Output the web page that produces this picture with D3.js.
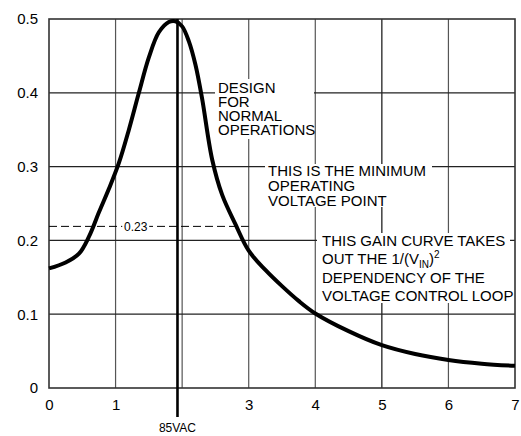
<!DOCTYPE html>
<html>
<head>
<meta charset="utf-8">
<script src="https://cdn.jsdelivr.net/npm/d3@7"></script>
<style>
  body { margin: 0; background: #fff; }
  text { font-family: Arial, "Liberation Sans", sans-serif; fill: #000; }
</style>
</head>
<body>
<div id="plot"></div>
<script>
// gain curve
var vinValues  = [0, 0.25, 0.45, 0.6, 0.75, 0.9, 1.05, 1.2, 1.35, 1.5, 1.65, 1.8, 1.9, 2.0, 2.1, 2.2, 2.3, 2.45, 2.6, 2.8, 3.0, 3.25, 3.5, 3.75, 4.0, 4.5, 5.0, 5.5, 6.0, 6.5, 7.0];
var gainValues = [0.162, 0.170, 0.182, 0.205, 0.238, 0.270, 0.305, 0.350, 0.400, 0.448, 0.482, 0.496, 0.497, 0.490, 0.470, 0.438, 0.392, 0.310, 0.262, 0.222, 0.186, 0.160, 0.138, 0.118, 0.101, 0.077, 0.058, 0.046, 0.038, 0.033, 0.030];

var xTicks = [0, 1, 2, 3, 4, 5, 6, 7];
var yTicks = [0, 0.1, 0.2, 0.3, 0.4, 0.5];
var xTickLabels = ["0", "1", "", "3", "4", "5", "6", "7"];

var markerVin = 1.93, markerLabel = "85VAC";
var minGain = 0.219, minGainLabel = "0.23";

var designLines = ["DESIGN", "FOR", "NORMAL", "OPERATIONS"];
var minimumLines = ["THIS IS THE MINIMUM", "OPERATING", "VOLTAGE POINT"];

//Create margins and figure size
var margin = { top: 19, right: 6, bottom: 48, left: 49 },
    width = 521 - margin.left - margin.right,
    height = 436 - margin.top - margin.bottom;

var svg = d3.select("#plot").append("svg")
    .attr("width", 521)
    .attr("height", 436);

var g = svg.append("g")
    .attr("transform", "translate(" + margin.left + "," + margin.top + ")");

var xScale = d3.scaleLinear().domain([0, 7]).range([0, width]),
    yScale = d3.scaleLinear().domain([0, 0.5]).range([height, 0]);

// grid
g.append("g").selectAll("line")
    .data(xTicks.slice(1, -1))
    .enter().append("line")
    .attr("x1", function (d) { return xScale(d); })
    .attr("x2", function (d) { return xScale(d); })
    .attr("y1", 0).attr("y2", height)
    .attr("stroke", function (d) { return d == 5 ? "#111" : "#555"; })
    .attr("stroke-width", 1.2);

g.append("g").selectAll("line")
    .data(yTicks.slice(1, -1))
    .enter().append("line")
    .attr("x1", 0).attr("x2", width)
    .attr("y1", function (d) { return yScale(d); })
    .attr("y2", function (d) { return yScale(d); })
    .attr("stroke", "#222")
    .attr("stroke-width", 1.2);

// frame
g.append("rect")
    .attr("width", width).attr("height", height)
    .attr("fill", "none")
    .attr("stroke", "#333")
    .attr("stroke-width", 1.6);

// axes (labels only, the frame is drawn above)
var xAxis = d3.axisBottom(xScale).tickValues(xTicks).tickSize(0).tickPadding(11)
    .tickFormat(function (d, i) { return xTickLabels[i]; });
var yAxis = d3.axisLeft(yScale).tickValues(yTicks).tickSize(0).tickPadding(11)
    .tickFormat(function (d) { return d == 0 ? "0" : d3.format(".1f")(d); });

g.append("g")
    .attr("transform", "translate(0," + height + ")")
    .call(xAxis)
    .call(function (s) { s.select(".domain").remove(); })
    .selectAll("text").style("font-size", "15px").attr("fill", "#000");

g.append("g")
    .call(yAxis)
    .call(function (s) { s.select(".domain").remove(); })
    .selectAll("text").style("font-size", "15px").attr("fill", "#000");

// dashed minimum line with its label
g.append("line")
    .attr("x1", xScale(0)).attr("x2", xScale(3))
    .attr("y1", yScale(minGain)).attr("y2", yScale(minGain))
    .attr("stroke", "#000")
    .attr("stroke-width", 1)
    .attr("stroke-dasharray", "8,4");
g.append("rect")
    .attr("x", xScale(1.1)).attr("y", yScale(minGain) - 6)
    .attr("width", 27).attr("height", 12)
    .attr("fill", "#fff");
g.append("text")
    .attr("x", xScale(1.1) + 13.5).attr("y", yScale(minGain))
    .attr("dy", "0.35em")
    .attr("text-anchor", "middle")
    .style("font-size", "12px")
    .text(minGainLabel);

// annotation blocks sit on white boxes that hide the grid
function textBlock(lines, x, y, lineHeight, box) {
    g.append("rect")
        .attr("x", box[0]).attr("y", box[1])
        .attr("width", box[2]).attr("height", box[3])
        .attr("fill", "#fff");
    var t = g.append("text")
        .attr("x", x).attr("y", y)
        .style("font-size", "15px");
    lines.forEach(function (l, i) {
        t.append("tspan").attr("x", x).attr("dy", i == 0 ? 0 : lineHeight).text(l);
    });
    return t;
}

textBlock(designLines, 169, 74, 14, [166, 60, 99, 60]);
textBlock(minimumLines, 219, 157, 15, [216, 145, 167, 43]);

// gain curve text, with the 1/(VIN)^2 term
g.append("rect")
    .attr("x", 268).attr("y", 214)
    .attr("width", 193).attr("height", 70)
    .attr("fill", "#fff");
var gainText = g.append("text")
    .attr("x", 273).attr("y", 227)
    .style("font-size", "15px");
gainText.append("tspan").attr("x", 273).text("THIS GAIN CURVE TAKES");
gainText.append("tspan").attr("x", 273).attr("dy", 18.3).text("OUT THE 1/(V");
gainText.append("tspan").attr("dy", 4).style("font-size", "10px").text("IN");
gainText.append("tspan").attr("dy", -4).text(")");
gainText.append("tspan").attr("dy", -6).style("font-size", "10px").text("2");
gainText.append("tspan").attr("x", 273).attr("dy", 24.3).text("DEPENDENCY OF THE");
gainText.append("tspan").attr("x", 273).attr("dy", 18.3).text("VOLTAGE CONTROL LOOP");

// 85VAC marker
g.append("line")
    .attr("x1", xScale(markerVin)).attr("x2", xScale(markerVin))
    .attr("y1", 0).attr("y2", height + 29)
    .attr("stroke", "#000")
    .attr("stroke-width", 2.6);
g.append("text")
    .attr("x", xScale(markerVin)).attr("y", height + 44)
    .attr("text-anchor", "middle")
    .style("font-size", "12px")
    .text(markerLabel);

// the curve
var line = d3.line()
    .x(function (d, i) { return xScale(vinValues[i]); })
    .y(function (d) { return yScale(d); })
    .curve(d3.curveCatmullRom.alpha(0.5));

g.append("path")
    .datum(gainValues)
    .attr("fill", "none")
    .attr("stroke", "#000")
    .attr("stroke-width", 4)
    .attr("stroke-linejoin", "round")
    .attr("d", line);
</script>
</body>
</html>
